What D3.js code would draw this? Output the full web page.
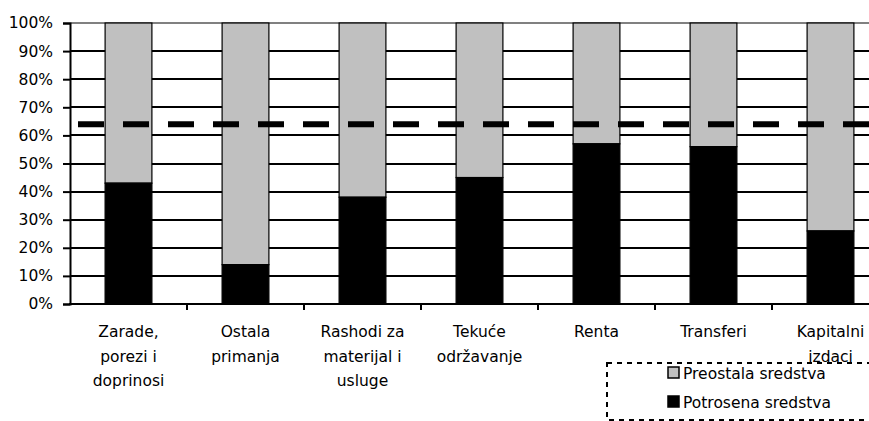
<!DOCTYPE html>
<html>
<head>
<meta charset="utf-8">
<script src="https://cdn.jsdelivr.net/npm/d3@7"></script>
<style>
  body { margin: 0; background: #fff; }
  svg { display: block; font-family: "DejaVu Sans", sans-serif; }
</style>
</head>
<body>
<svg id="chart" width="869" height="421"></svg>
<script>
// category labels, split into the lines shown under the axis
const categories = [
    ["Zarade,", "porezi i", "doprinosi"],
    ["Ostala", "primanja"],
    ["Rashodi za", "materijal i", "usluge"],
    ["Tekuće", "održavanje"],
    ["Renta"],
    ["Transferi"],
    ["Kapitalni", "izdaci"]
];
const spent = [0.43, 0.14, 0.38, 0.45, 0.57, 0.56, 0.26];      // Potrosena sredstva
const remaining = [0.57, 0.86, 0.62, 0.55, 0.43, 0.44, 0.74];  // Preostala sredstva
const target = 0.64;
const yTicks = [0, 0.1, 0.2, 0.3, 0.4, 0.5, 0.6, 0.7, 0.8, 0.9, 1];
const legendItems = [
    { label: "Preostala sredstva", color: "#c0c0c0" },
    { label: "Potrosena sredstva", color: "#000000" }
];

const W = 869;
const svg = d3.select("#chart");
const plotLeft = 70, plotTop = 23, plotBottom = 304, step = 117;
const plotRight = plotLeft + step * categories.length;

const idx = categories.map((_, i) => i);
const xSlot = d3.scaleBand().domain(idx).range([plotLeft, plotRight]).padding(0);
const xBar = d3.scaleBand().domain(idx).range([plotLeft, plotRight]).paddingInner(0.6).paddingOuter(0.3);
const y = d3.scaleLinear().domain([0, 1]).range([plotBottom, plotTop]);

// gridlines (bars are drawn over them)
svg.append("g")
    .attr("class", "grid")
    .selectAll("rect")
    .data(yTicks.filter(v => v > 0))
    .join("rect")
    .attr("x", plotLeft)
    .attr("width", W - plotLeft)
    .attr("y", v => Math.round(y(v)) - 1)
    .attr("height", 2)
    .attr("fill", v => v === 1 ? "#808080" : "#000000");

// stacked bars
const bars = svg.append("g");
bars.selectAll("rect.rem")
    .data(idx)
    .join("rect")
    .attr("class", "rem")
    .attr("x", i => xBar(i))
    .attr("width", xBar.bandwidth())
    .attr("y", i => y(spent[i] + remaining[i]))
    .attr("height", i => y(spent[i]) - y(spent[i] + remaining[i]))
    .attr("fill", "#c0c0c0")
    .attr("stroke", "#000")
    .attr("stroke-width", 1.2);
bars.selectAll("rect.spent")
    .data(idx)
    .join("rect")
    .attr("class", "spent")
    .attr("x", i => xBar(i))
    .attr("width", xBar.bandwidth())
    .attr("y", i => y(spent[i]))
    .attr("height", i => y(0) - y(spent[i]))
    .attr("fill", "#000")
    .attr("stroke", "#000")
    .attr("stroke-width", 1.2);

// target dashed line
svg.append("line")
    .attr("x1", plotLeft + 8).attr("x2", W)
    .attr("y1", y(target)).attr("y2", y(target))
    .attr("stroke", "#000")
    .attr("stroke-width", 6)
    .attr("stroke-dasharray", "26 19");

// y axis
const yAxis = svg.append("g")
    .attr("transform", `translate(${plotLeft},0)`)
    .call(d3.axisLeft(y).tickValues(yTicks).tickFormat(d3.format(".0%")).tickSize(7).tickPadding(10));
yAxis.select(".domain").attr("stroke-width", 2);
yAxis.selectAll(".tick line").attr("stroke-width", 2);
yAxis.selectAll("text").attr("font-size", 15.5).attr("fill", "#000").attr("font-family", "DejaVu Sans, sans-serif");

// x axis
const xAxis = svg.append("g");
xAxis.append("line")
    .attr("x1", plotLeft - 1).attr("x2", plotRight)
    .attr("y1", plotBottom).attr("y2", plotBottom)
    .attr("stroke", "#000").attr("stroke-width", 2);
xAxis.selectAll("line.tick")
    .data(idx)
    .join("line")
    .attr("class", "tick")
    .attr("x1", i => xSlot(i) + xSlot.bandwidth())
    .attr("x2", i => xSlot(i) + xSlot.bandwidth())
    .attr("y1", plotBottom).attr("y2", plotBottom + 6)
    .attr("stroke", "#000").attr("stroke-width", 2);

const labels = xAxis.selectAll("text.cat")
    .data(idx)
    .join("text")
    .attr("class", "cat")
    .attr("x", i => xSlot(i) + xSlot.bandwidth() / 2)
    .attr("y", 337)
    .attr("text-anchor", "middle")
    .attr("font-size", 15.5)
    .attr("fill", "#000");
labels.selectAll("tspan")
    .data(i => categories[i])
    .join("tspan")
    .attr("x", function () { return d3.select(this.parentNode).attr("x"); })
    .attr("dy", (d, j) => j === 0 ? 0 : 24.5)
    .text(d => d);

// legend
const legend = svg.append("g");
legend.append("rect")
    .attr("x", 607).attr("y", 363)
    .attr("width", 300).attr("height", 57)
    .attr("fill", "none")
    .attr("stroke", "#000")
    .attr("stroke-width", 2)
    .attr("stroke-dasharray", "5 5");
const item = legend.selectAll("g.item")
    .data(legendItems)
    .join("g")
    .attr("class", "item")
    .attr("transform", (d, i) => `translate(668,${367 + i * 29})`);
item.append("rect")
    .attr("width", 11).attr("height", 11)
    .attr("fill", d => d.color)
    .attr("stroke", "#000")
    .attr("stroke-width", 1.5);
item.append("text")
    .attr("x", 15).attr("y", 11.5)
    .attr("font-size", 15.5)
    .attr("fill", "#000")
    .text(d => d.label);
</script>
</body>
</html>
